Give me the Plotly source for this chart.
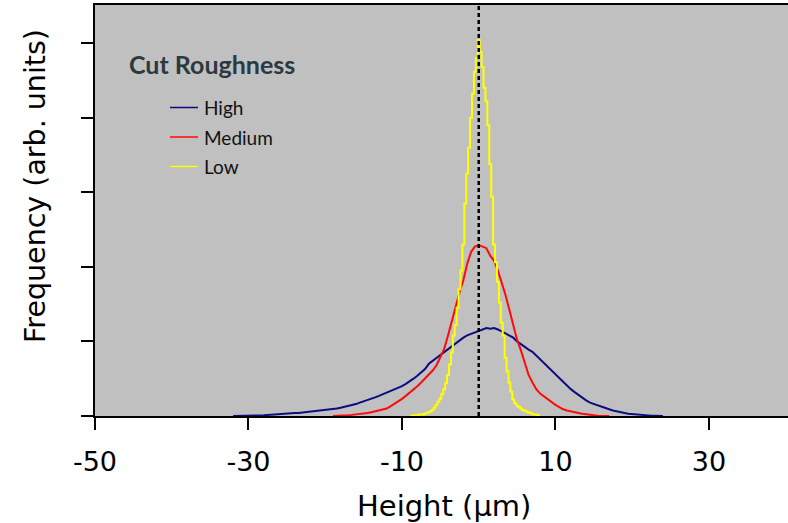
import numpy as np
import plotly.graph_objects as go

# Height histograms (bin centres built from start + step), frequency in arb. units
HIGH_START, HIGH_STEP = -32.0, 0.5
HIGH = [
    0.00, 0.00, 0.00, 0.00, 0.005, 0.01, 0.01, 0.01, 0.01, 0.015,
    0.02, 0.02, 0.03, 0.03, 0.03, 0.035, 0.04, 0.04, 0.045, 0.05,
    0.055, 0.06, 0.065, 0.07, 0.075, 0.08, 0.09, 0.10, 0.11, 0.12,
    0.135, 0.15, 0.16, 0.18, 0.195, 0.21, 0.23, 0.25, 0.27, 0.29,
    0.31, 0.33, 0.36, 0.38, 0.40, 0.43, 0.46, 0.50, 0.54, 0.58,
    0.63, 0.70, 0.74, 0.78, 0.82, 0.85, 0.89, 0.94, 0.98, 1.02,
    1.05, 1.08, 1.10, 1.12, 1.14, 1.15, 1.18, 1.17, 1.18, 1.16,
    1.13, 1.10, 1.08, 1.05, 1.00, 0.96, 0.93, 0.89, 0.86, 0.81,
    0.76, 0.70, 0.65, 0.60, 0.55, 0.50, 0.45, 0.40, 0.36, 0.32,
    0.28, 0.25, 0.21, 0.18, 0.16, 0.14, 0.12, 0.10, 0.09, 0.075,
    0.06, 0.05, 0.04, 0.03, 0.025, 0.02, 0.015, 0.01, 0.01, 0.005,
    0.005, 0.00, 0.00,
]

MEDIUM_START, MEDIUM_STEP = -19.0, 0.5
MEDIUM = [
    0.00, 0.00, 0.005, 0.01, 0.01, 0.015, 0.02, 0.025, 0.03, 0.04,
    0.05, 0.065, 0.075, 0.09, 0.10, 0.13, 0.16, 0.19, 0.23, 0.27,
    0.31, 0.35, 0.40, 0.45, 0.50, 0.56, 0.61, 0.68, 0.78, 0.90,
    1.08, 1.28, 1.48, 1.66, 1.82, 2.04, 2.20, 2.27, 2.29, 2.27,
    2.25, 2.15, 2.08, 1.95, 1.80, 1.62, 1.42, 1.20, 1.02, 0.88,
    0.72, 0.55, 0.45, 0.36, 0.30, 0.26, 0.22, 0.19, 0.15, 0.12,
    0.09, 0.075, 0.06, 0.05, 0.04, 0.03, 0.02, 0.015, 0.01, 0.005,
    0.00, 0.00, 0.00,
]

LOW_START, LOW_STEP = -9.0, 0.25
LOW = [
    0.00, 0.00, 0.01, 0.01, 0.01, 0.02, 0.02, 0.02, 0.03, 0.04,
    0.05, 0.06, 0.08, 0.11, 0.15, 0.19, 0.23, 0.29, 0.36, 0.44,
    0.55, 0.69, 0.85, 1.08, 1.22, 1.45, 1.70, 1.95, 2.30, 2.85,
    3.25, 3.60, 4.00, 4.32, 4.62, 4.80, 5.04, 4.88, 4.68, 4.40,
    4.22, 3.90, 3.38, 2.94, 2.30, 2.06, 1.80, 1.52, 1.25, 1.08,
    0.78, 0.60, 0.45, 0.33, 0.22, 0.17, 0.14, 0.12, 0.10, 0.08,
    0.07, 0.06, 0.05, 0.04, 0.03, 0.02, 0.02, 0.01, 0.00,
]

SERIES = [
    ("High", HIGH_START, HIGH_STEP, HIGH, "#0c0c80", "linear"),
    ("Medium", MEDIUM_START, MEDIUM_STEP, MEDIUM, "#ff0a0a", "linear"),
    ("Low", LOW_START, LOW_STEP, LOW, "#ffff00", "hvh"),
]

X_TICKS = [-50, -30, -10, 10, 30]
Y_TICKS = [0, 1, 2, 3, 4, 5]

W, H = 788, 523
M_L, M_R, M_T, M_B = 95, 0, 5, 107
PW, PH = W - M_L - M_R, H - M_T - M_B


def px(xp):
    return (xp - M_L) / PW


def py(yp):
    return (H - M_B - yp) / PH


fig = go.Figure()
for name, start, step, vals, color, shape in SERIES:
    centres = start + step * np.arange(len(vals))
    fig.add_trace(go.Scatter(
        x=centres, y=vals, mode="lines", name=name,
        line=dict(color=color, width=2, shape=shape),
        showlegend=False,
    ))

# dashed reference line at zero height
fig.add_shape(type="line", xref="x", yref="paper", x0=0, x1=0, y0=0, y1=1,
              line=dict(color="black", width=2.5, dash="4px,3px"))

# legend block
fig.add_annotation(xref="paper", yref="paper", x=px(127), y=py(64),
                   xanchor="left", yanchor="middle", showarrow=False,
                   text="<b>Cut Roughness</b>",
                   font=dict(family="Lato", size=25, color="#2b3940"))
legend_rows = [(107.5, 0), (137, 1), (166.5, 2)]
for ypix, idx in legend_rows:
    name, _, _, _, color, _ = SERIES[idx]
    fig.add_shape(type="line", xref="paper", yref="paper",
                  x0=px(170), x1=px(198), y0=py(ypix), y1=py(ypix),
                  line=dict(color=color, width=1.5))
    fig.add_annotation(xref="paper", yref="paper", x=px(202), y=py(ypix),
                       xanchor="left", yanchor="middle", showarrow=False,
                       text=name, font=dict(family="Lato", size=19, color="#111111"))

# axis titles
fig.add_annotation(xref="paper", yref="paper", x=px(444), y=py(506),
                   xanchor="center", yanchor="middle", showarrow=False,
                   text="Height (µm)",
                   font=dict(family="DejaVu Sans", size=29, color="black"))
fig.add_annotation(xref="paper", yref="paper", x=px(35), y=py(186),
                   xanchor="center", yanchor="middle", showarrow=False,
                   textangle=-90, text="Frequency (arb. units)",
                   font=dict(family="DejaVu Sans", size=28.5, color="black"))

fig.update_layout(
    width=W, height=H,
    margin=dict(l=M_L, r=M_R, t=M_T, b=M_B),
    paper_bgcolor="white",
    plot_bgcolor="#c0c0c0",
    xaxis=dict(
        range=[-50, 40.3], tickvals=X_TICKS, ticktext=[str(v) for v in X_TICKS],
        ticks="outside", ticklen=12, tickwidth=1.5, tickcolor="black",
        ticklabelstandoff=9,
        showline=True, linecolor="black", linewidth=1.5, mirror=True,
        showgrid=False, zeroline=False,
        tickfont=dict(family="DejaVu Sans", size=27, color="black"),
    ),
    yaxis=dict(
        range=[0, 5.51], tickvals=Y_TICKS, showticklabels=False,
        ticks="outside", ticklen=12, tickwidth=1.5, tickcolor="black",
        showline=True, linecolor="black", linewidth=1.5,
        showgrid=False, zeroline=False,
    ),
)

fig.write_html("out.html")
